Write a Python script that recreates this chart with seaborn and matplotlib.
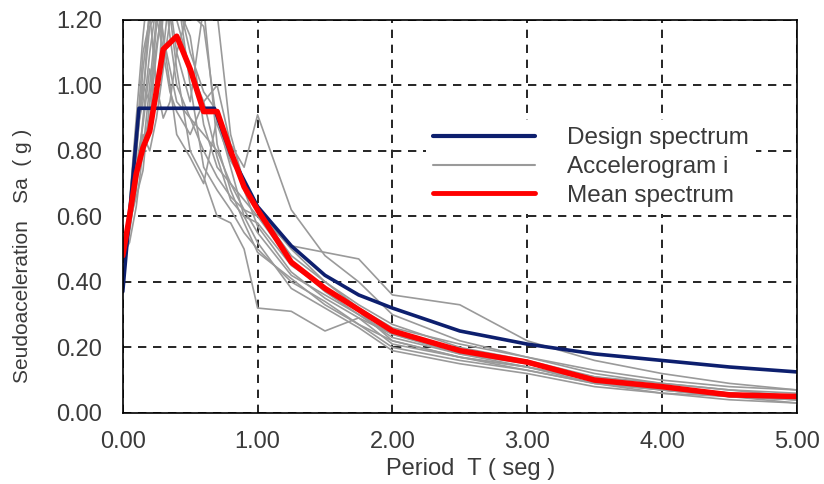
import numpy as np
import pandas as pd
import seaborn as sns
import matplotlib.pyplot as plt
from matplotlib.lines import Line2D

## Data
# periods used by the accelerogram spectra
periods = [0, 0.05, 0.1, 0.15, 0.2, 0.25, 0.3, 0.35, 0.4, 0.5, 0.6, 0.7, 0.8, 0.9,
           1.0, 1.25, 1.5, 1.75, 2.0, 2.5, 3.0, 3.5, 4.0, 4.5, 5.0]

acc_01 = [0.48, 0.62, 0.85, 0.95, 1.25, 1.30, 1.15, 1.05, 0.95, 0.90, 0.85, 0.80, 0.70, 0.62, 0.55, 0.42, 0.36, 0.30, 0.24, 0.19, 0.15, 0.10, 0.07, 0.05, 0.04]
acc_02 = [0.48, 0.55, 0.70, 0.82, 0.90, 1.10, 1.28, 1.35, 1.20, 1.05, 0.95, 0.78, 0.65, 0.60, 0.58, 0.45, 0.38, 0.31, 0.22, 0.17, 0.14, 0.09, 0.07, 0.05, 0.04]
acc_03 = [0.48, 0.60, 0.78, 1.05, 1.22, 1.00, 0.90, 0.95, 1.10, 1.25, 1.28, 1.22, 0.85, 0.70, 0.62, 0.50, 0.40, 0.33, 0.27, 0.20, 0.16, 0.11, 0.08, 0.06, 0.05]
acc_04 = [0.48, 0.58, 0.66, 0.74, 0.95, 1.18, 1.30, 1.22, 1.05, 0.80, 0.72, 0.60, 0.58, 0.50, 0.32, 0.31, 0.25, 0.29, 0.24, 0.18, 0.14, 0.10, 0.08, 0.06, 0.05]
acc_05 = [0.48, 0.64, 0.90, 1.15, 1.35, 1.28, 1.10, 0.98, 0.92, 0.85, 0.95, 1.00, 0.82, 0.75, 0.91, 0.62, 0.48, 0.40, 0.30, 0.22, 0.17, 0.12, 0.09, 0.07, 0.05]
acc_06 = [0.48, 0.52, 0.63, 0.80, 1.00, 1.21, 1.10, 1.30, 1.25, 1.15, 0.88, 0.75, 0.70, 0.65, 0.60, 0.51, 0.49, 0.47, 0.36, 0.33, 0.22, 0.16, 0.12, 0.09, 0.07]
acc_07 = [0.48, 0.60, 0.75, 0.88, 1.05, 0.95, 1.22, 1.40, 1.30, 1.00, 0.75, 0.68, 0.62, 0.55, 0.50, 0.40, 0.34, 0.27, 0.20, 0.16, 0.13, 0.09, 0.06, 0.04, 0.03]
acc_08 = [0.48, 0.57, 0.68, 0.90, 1.10, 1.25, 1.32, 1.15, 1.00, 0.90, 0.80, 0.72, 0.66, 0.62, 0.60, 0.46, 0.37, 0.30, 0.23, 0.18, 0.15, 0.11, 0.09, 0.07, 0.06]
acc_09 = [0.48, 0.61, 0.80, 1.00, 0.95, 1.12, 1.25, 1.30, 1.40, 1.22, 1.18, 0.88, 0.77, 0.70, 0.62, 0.48, 0.40, 0.32, 0.26, 0.21, 0.17, 0.13, 0.10, 0.08, 0.07]
acc_10 = [0.48, 0.56, 0.72, 0.85, 0.80, 0.90, 1.05, 1.20, 1.28, 1.10, 0.98, 0.92, 0.80, 0.68, 0.57, 0.43, 0.35, 0.29, 0.21, 0.17, 0.13, 0.09, 0.07, 0.05, 0.04]
acc_11 = [0.48, 0.59, 0.82, 1.10, 1.20, 1.35, 1.15, 1.00, 0.85, 0.78, 0.70, 0.90, 0.75, 0.60, 0.52, 0.38, 0.32, 0.26, 0.19, 0.15, 0.12, 0.08, 0.06, 0.05, 0.03]
acc_12 = [0.48, 0.63, 0.88, 0.97, 1.18, 1.22, 1.38, 1.25, 1.10, 0.95, 1.24, 0.82, 0.68, 0.58, 0.49, 0.41, 0.33, 0.27, 0.22, 0.17, 0.14, 0.10, 0.08, 0.06, 0.04]

# design spectrum
design_T = [0, 0.12, 0.68, 0.8, 1.0, 1.25, 1.5, 1.75, 2.0, 2.5, 3.0, 3.5, 4.0, 4.5, 5.0]
design_sa = [0.37, 0.93, 0.93, 0.79, 0.63, 0.51, 0.42, 0.36, 0.32, 0.25, 0.21, 0.18, 0.16, 0.14, 0.125]

# mean spectrum
mean_T = [0, 0.05, 0.1, 0.15, 0.2, 0.3, 0.4, 0.5, 0.6, 0.7, 0.8, 0.9, 1.0, 1.25, 1.5,
          2.0, 2.5, 3.0, 3.5, 4.0, 4.5, 5.0]
mean_sa = [0.48, 0.60, 0.73, 0.81, 0.86, 1.11, 1.15, 1.05, 0.92, 0.92, 0.80, 0.69, 0.62,
           0.46, 0.38, 0.25, 0.19, 0.155, 0.10, 0.08, 0.055, 0.05]

records = [acc_01, acc_02, acc_03, acc_04, acc_05, acc_06, acc_07, acc_08, acc_09, acc_10, acc_11, acc_12]
acc = pd.DataFrame([(i, t, v) for i, rec in enumerate(records) for t, v in zip(periods, rec)],
                   columns=['record', 'T', 'Sa'])
design = pd.DataFrame({'T': design_T, 'Sa': design_sa})
mean = pd.DataFrame({'T': mean_T, 'Sa': mean_sa})

## Plot
sns.set_style('white')
plt.rcParams['font.family'] = ['Liberation Sans', 'DejaVu Sans']
text_col = '#3a3a3a'

fig, ax = plt.subplots(figsize=(8.24, 4.84), dpi=100)
fig.subplots_adjust(left=0.149, right=0.967, bottom=0.147, top=0.959)

sns.lineplot(data=acc, x='T', y='Sa', units='record', estimator=None, color='#9a9a9a',
             lw=1.2, ax=ax, legend=False)
sns.lineplot(data=design, x='T', y='Sa', color='#0d1f6e', lw=2.6, ax=ax)
sns.lineplot(data=mean, x='T', y='Sa', color='#ff0000', lw=4, ax=ax)

ax.set_xlim(0, 5)
ax.set_ylim(0, 1.2)
ax.set_xticks(np.arange(0, 5.01, 1))
ax.set_yticks(np.arange(0, 1.21, 0.2))
ax.set_xticklabels([f'{v:.2f}' for v in np.arange(0, 5.01, 1)])
ax.set_yticklabels([f'{v:.2f}' for v in np.arange(0, 1.21, 0.2)])
ax.tick_params(length=0, labelsize=17, labelcolor=text_col)
ax.tick_params(axis='x', pad=13)
ax.tick_params(axis='y', pad=15)
ax.grid(True, color='black', ls=(0, (5, 4)), lw=1.2)
for s in ax.spines.values():
    s.set_color('black')
    s.set_linewidth(1.2)

ax.set_xlabel('Period  T ( seg )', fontsize=17, color=text_col)
ax.set_ylabel('Seudoaceleration   Sa  ( g )', fontsize=15, color=text_col)
ax.xaxis.set_label_coords(0.516, -0.115)
ax.yaxis.set_label_coords(-0.135, 0.40)

handles = [Line2D([], [], color='#0d1f6e', lw=3),
           Line2D([], [], color='#9a9a9a', lw=1.5),
           Line2D([], [], color='#ff0000', lw=3.5)]
leg = ax.legend(handles, ['Design spectrum', 'Accelerogram i', 'Mean spectrum'],
                loc='upper left', bbox_to_anchor=(0.45, 0.745), frameon=True,
                facecolor='white', edgecolor='none', framealpha=1, fancybox=False,
                fontsize=17.5, handlelength=4.2, handletextpad=1.3, labelspacing=0.28,
                borderaxespad=0, borderpad=0.3)
for t in leg.get_texts():
    t.set_color(text_col)

plt.savefig('out.png', dpi=100)
